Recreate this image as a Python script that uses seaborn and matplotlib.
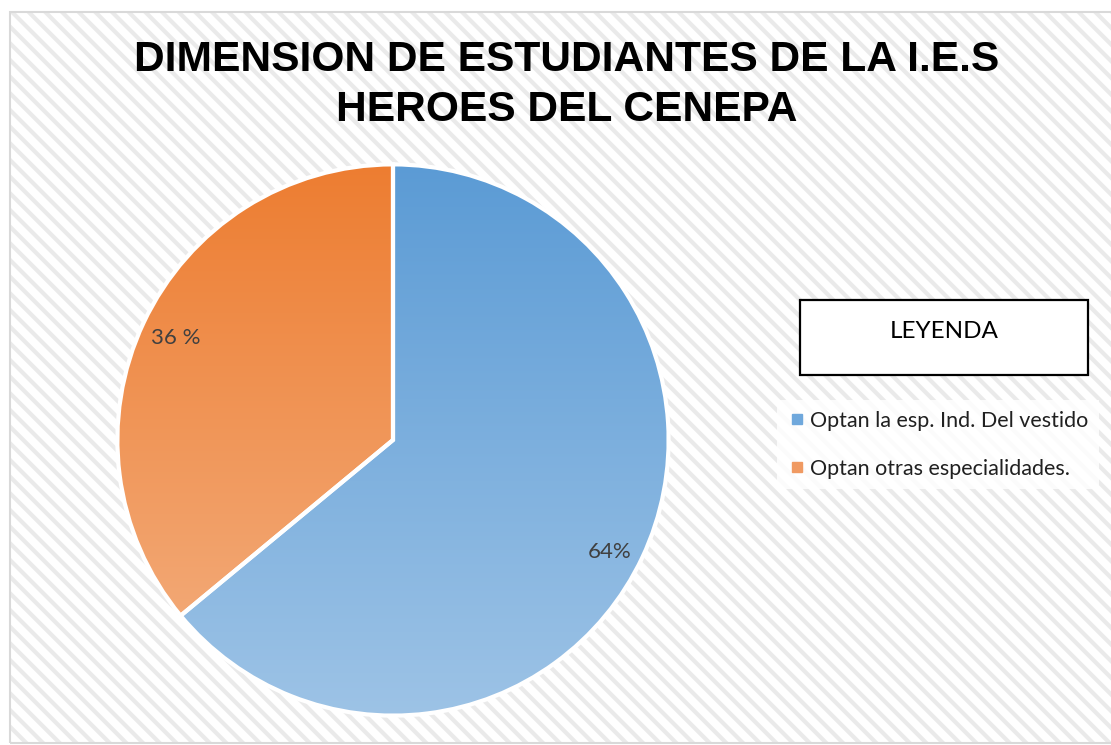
import numpy as np
import matplotlib
matplotlib.use("Agg")
import matplotlib.pyplot as plt
from matplotlib.colors import LinearSegmentedColormap
from matplotlib.patches import Rectangle
from matplotlib.lines import Line2D
import seaborn as sns

# datos
categories = ["Optan la esp. Ind. Del vestido", "Optan otras especialidades."]
values = [64, 36]
pct_labels = ["64%", "36 %"]
title = "DIMENSION DE ESTUDIANTES DE LA I.E.S\nHEROES DEL CENEPA"

top_colors = ["#5B9BD5", "#ED7D31"]
bottom_colors = ["#9DC3E6", "#F4B183"]
legend_colors = ["#6FA8DC", "#F09A62"]

sns.set_theme(style="white")
plt.rcParams["font.family"] = ["Lato", "DejaVu Sans"]
plt.rcParams["hatch.linewidth"] = 3.0

W, H = 1111, 745
fig = plt.figure(figsize=(W / 100, H / 100), dpi=100)
fig.patch.set_facecolor("white")

# fondo rayado
bg = Rectangle((10 / W, 2 / H), 1.0, (H - 14) / H, transform=fig.transFigure,
               facecolor="white", edgecolor="#eaeaea", hatch="\\\\", linewidth=0, zorder=-2)
fig.patches.append(bg)
border = Rectangle((10 / W, 2 / H), 1.0, (H - 14) / H, transform=fig.transFigure,
                   fill=False, edgecolor="#d9d9d9", linewidth=1.5, zorder=-1)
fig.patches.append(border)

# pastel
cx, cy, r = 393, 440, 277
ax = fig.add_axes([(cx - r) / W, (H - cy - r) / H, 2 * r / W, 2 * r / H], zorder=1)
ax.patch.set_alpha(0)

wedges, texts, autotexts = ax.pie(
    values, startangle=90, counterclock=False, colors=top_colors,
    autopct=lambda p: pct_labels[values.index(round(p))],
    pctdistance=0.87,
    wedgeprops=dict(edgecolor="white", linewidth=3),
    textprops=dict(color="#404040", fontsize=16),
)

grad = np.linspace(0, 1, 256).reshape(-1, 1)
for w, c0, c1 in zip(wedges, top_colors, bottom_colors):
    cmap = LinearSegmentedColormap.from_list("g", [c1, c0])
    im = ax.imshow(grad, cmap=cmap, extent=(-1, 1, -1, 1), origin="lower",
                   aspect="auto", zorder=2)
    im.set_clip_path(w)
    w.set_facecolor("none")
    w.set_zorder(3)
for t in autotexts:
    t.set_zorder(4)
# la etiqueta del 64% queda algo mas abajo en el original
x0, y0 = autotexts[0].get_position()
autotexts[0].set_position((x0, y0 - 0.035))

ax.set_xlim(-1.005, 1.005)
ax.set_ylim(-1.005, 1.005)
ax.set_aspect("equal")
ax.axis("off")

# titulo
fig.text(567 / W, (H - 85) / H, title, ha="center", va="center", fontsize=30.6,
         fontweight="bold", family=["Liberation Sans", "DejaVu Sans"], color="black",
         linespacing=1.3)

# caja LEYENDA
box = Rectangle((800 / W, (H - 375) / H), 288 / W, 75 / H, transform=fig.transFigure,
                facecolor="white", edgecolor="black", linewidth=1.6, zorder=2)
fig.patches.append(box)
fig.text(944 / W, (H - 331) / H, "LEYENDA", ha="center", va="center", fontsize=17.5,
         color="black", zorder=3)

handles = [Line2D([], [], marker="s", linestyle="none", markersize=7, color=c)
           for c in legend_colors]
leg = fig.legend(handles, categories, loc="upper left",
                 bbox_to_anchor=(766 / W, (H - 389) / H), frameon=True,
                 facecolor="white", edgecolor="none", fancybox=False, framealpha=0.85,
                 fontsize=15.5, labelspacing=1.3, handletextpad=0.15, borderpad=0.5,
                 handlelength=0.9)
for t in leg.get_texts():
    t.set_color("#202020")

fig.savefig("out.png", dpi=100)
